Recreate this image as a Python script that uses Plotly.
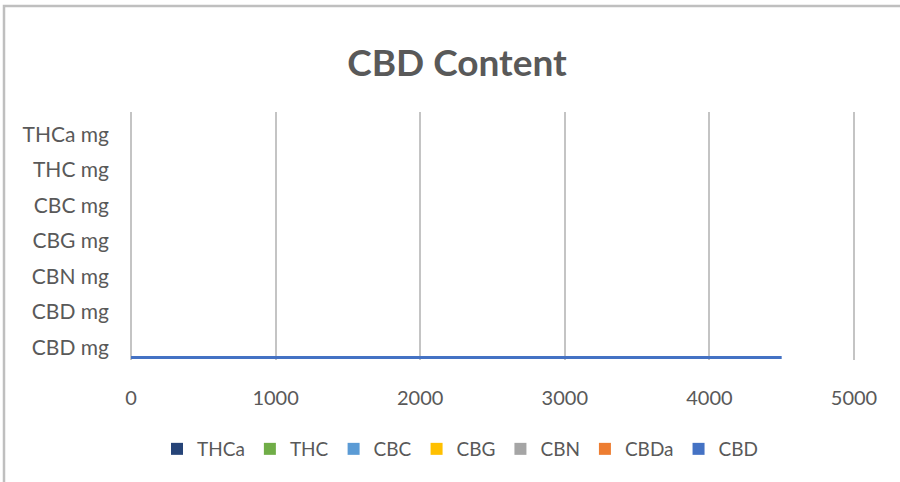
import plotly.graph_objects as go

categories = ["CBD mg", "CBDa mg", "CBN mg", "CBG mg", "CBC mg", "THC mg", "THCa mg"]
category_labels = ["CBD mg", "CBD mg", "CBN mg", "CBG mg", "CBC mg", "THC mg", "THCa mg"]

series_names = ["CBD", "CBDa", "CBN", "CBG", "CBC", "THC", "THCa"]
series_colors = ["#4472C4", "#ED7D31", "#A5A5A5", "#FFC000", "#5B9BD5", "#70AD47", "#264478"]

cbd_vals = [4500, 0, 0, 0, 0, 0, 0]
cbda_vals = [0, 0, 0, 0, 0, 0, 0]
cbn_vals = [0, 0, 0, 0, 0, 0, 0]
cbg_vals = [0, 0, 0, 0, 0, 0, 0]
cbc_vals = [0, 0, 0, 0, 0, 0, 0]
thc_vals = [0, 0, 0, 0, 0, 0, 0]
thca_vals = [0, 0, 0, 0, 0, 0, 0]
series_values = [cbd_vals, cbda_vals, cbn_vals, cbg_vals, cbc_vals, thc_vals, thca_vals]

x_ticks = [0, 1000, 2000, 3000, 4000, 5000]

FONT = "Lato"
TXT = "#595959"

fig = go.Figure()
for name, color, vals in zip(series_names, series_colors, series_values):
    fig.add_trace(go.Bar(
        y=categories, x=vals, name=name, orientation="h",
        marker=dict(color=color, line=dict(width=0)),
    ))

W, H = 900, 482
L, R, T, B = 129, 44, 112, 122
pw, ph = W - L - R, H - T - B

def px(x):
    return (x - L) / pw

def py(y):
    return (H - B - y) / ph

fig.update_layout(
    width=W, height=H,
    margin=dict(l=L, r=R, t=T, b=B),
    paper_bgcolor="white", plot_bgcolor="white",
    barmode="group", bargap=0.0, bargroupgap=0.4,
    title=dict(text="<b>CBD Content</b>", x=457 / W, xref="container", xanchor="center",
               y=1 - 63 / H, yref="container", yanchor="middle",
               font=dict(family=FONT, size=37, color=TXT)),
    font=dict(family=FONT, size=20, color=TXT),
    showlegend=True,
    legend=dict(orientation="h", traceorder="reversed", x=px(460), xanchor="center",
                y=py(449), yanchor="middle", font=dict(family=FONT, size=19, color=TXT),
                itemwidth=30),
    xaxis=dict(range=[-14, 5014], tickmode="array", tickvals=x_ticks,
               showgrid=True, gridcolor="#C4C4C4", gridwidth=2,
               zeroline=False, showline=False, ticks="", ticklabelstandoff=24,
               tickfont=dict(family=FONT, size=20, color=TXT), fixedrange=True),
    yaxis=dict(type="category", categoryorder="array", categoryarray=categories,
               range=[-0.5, 6.5], tickmode="array", tickvals=categories, ticktext=category_labels,
               showgrid=False, zeroline=False, showline=False, ticks="",
               ticklabelstandoff=19, ticklabelshift=5,
               tickfont=dict(family=FONT, size=21, color=TXT)),
    shapes=[dict(type="path", xref="paper", yref="paper",
                 path=f"M {px(4)} {py(H + 10)} L {px(4)} {py(6)} L {px(W + 10)} {py(6)}",
                 line=dict(color="#BFBFBF", width=2.5))],
)

fig.write_html("out.html", config={"displayModeBar": False},
               post_script="document.body.style.margin='0';")
